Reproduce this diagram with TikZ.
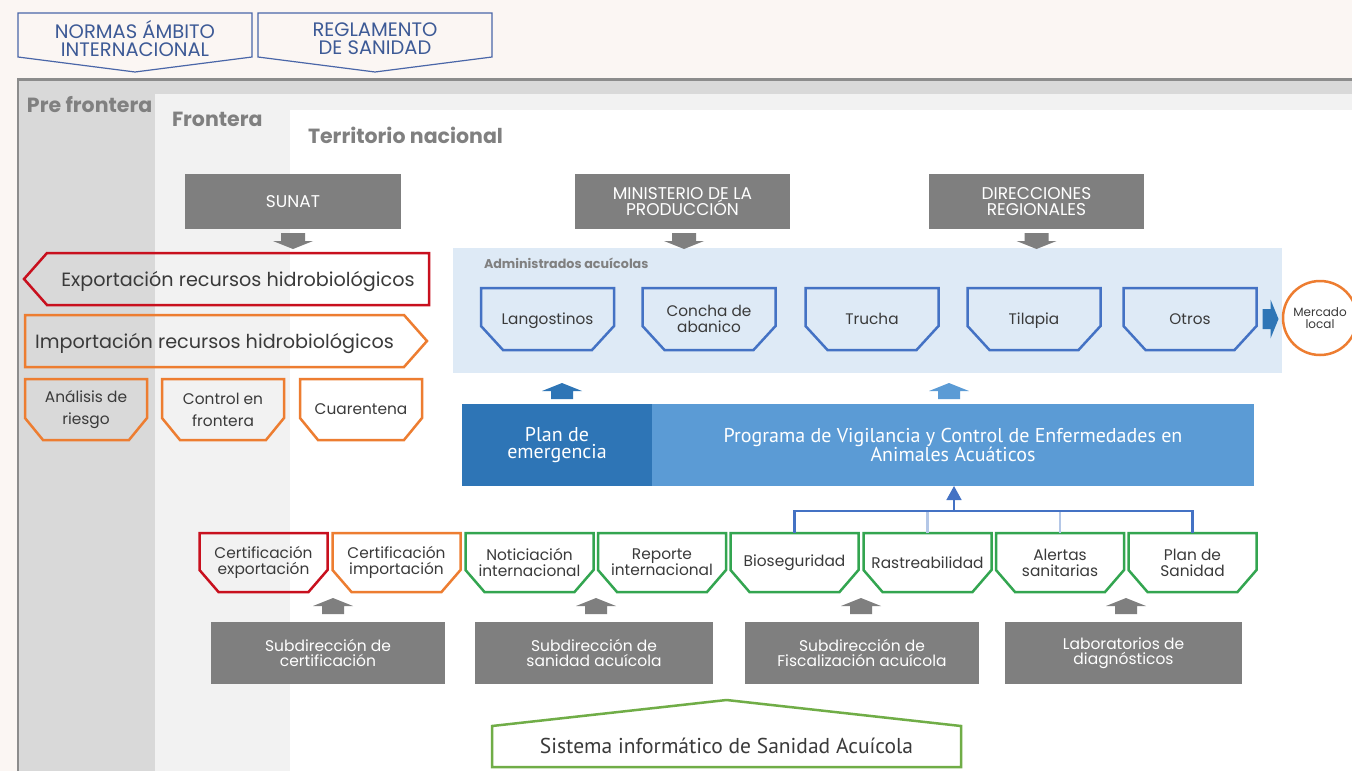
\documentclass[tikz,border=0pt]{standalone}
\usepackage{fontspec}
\setmainfont{Poppins}
\newfontfamily\condfont{PT Sans}
\usetikzlibrary{calc,arrows.meta}
\definecolor{bgc}{HTML}{FBF6F3}
\definecolor{framec}{HTML}{8C8C8C}
\definecolor{zoneA}{HTML}{D9D9D9}
\definecolor{zoneB}{HTML}{F2F2F2}
\definecolor{hblue}{HTML}{4A66A8}
\definecolor{htext}{HTML}{3D5A96}
\definecolor{gbox}{HTML}{7F7F7F}
\definecolor{adminbg}{HTML}{DEEAF6}
\definecolor{ablue}{HTML}{4472C4}
\definecolor{dblue}{HTML}{2E75B6}
\definecolor{mblue}{HTML}{5B9BD5}
\definecolor{lblue}{HTML}{B4C7E7}
\definecolor{redc}{HTML}{C8101E}
\definecolor{orangec}{HTML}{ED7D31}
\definecolor{greenc}{HTML}{33A550}
\definecolor{lgreen}{HTML}{70AD47}
\definecolor{txt}{HTML}{3A3A3A}
\definecolor{zlabel}{HTML}{808080}
\newcommand{\fs}[2]{\fontsize{#1}{#2}\selectfont}
\newcommand{\lowr}[2]{\raisebox{-#1}[\height][\depth]{#2}}
% chamfered outline around a node: name, style, dx, dy
\newcommand{\chamf}[4]{\draw[#2] (#1.north west) -- (#1.north east) -- ([yshift=#4]#1.south east) -- ([xshift=-#3]#1.south east) -- ([xshift=#3]#1.south west) -- ([yshift=#4]#1.south west) -- cycle;}
% block arrow up: color, anchor, xoffset, gap
\newcommand{\uparr}[4]{\fill[#1] ([shift={({#3-11},-#4)}]#2) -- ++(22,0) -- ++(0,-8) -- ++(9,0) -- ++(-20,-8) -- ++(-20,8) -- ++(9,0) -- cycle;}
% block arrow down: color, anchor, xoffset, gap
\newcommand{\dnarr}[4]{\fill[#1] ([shift={({#3-12},#4)}]#2) -- ++(24,0) -- ++(0,8) -- ++(8,0) -- ++(-20,8) -- ++(-20,-8) -- ++(8,0) -- cycle;}
\tikzset{
  every node/.style={inner sep=0pt, outer sep=0pt},
  zonelbl/.style={anchor=base west, text=zlabel, font=\bfseries\fs{20.5}{22}},
  hdr/.style={minimum width=234pt, minimum height=52pt, text=htext, align=center, font=\fs{19.5}{18}},
  gtop/.style={fill=gbox, minimum width=216pt, minimum height=55pt, text=white, align=center, font=\fs{17}{15.5}},
  gbot/.style={fill=gbox, minimum height=62pt, text=white, align=center, font=\fs{15.5}{14.5}},
  abox/.style={minimum width=133pt, minimum height=62pt, align=center, text=txt, font=\fs{15.3}{15.5}},
  obox/.style={minimum width=122pt, minimum height=61pt, align=center, text=txt, font=\fs{15.4}{22}},
  cbox/.style={minimum width=128pt, minimum height=59pt, align=center, text=txt, font=\fs{15.4}{16}},
  bigarrow/.style={minimum height=52pt, text=txt, font=\fs{19.2}{20}},
  brk/.style={ablue, line width=2.5pt},
  lbrk/.style={lblue, line width=2.5pt},
}
\begin{document}
\begin{tikzpicture}[x=1pt,y=-1pt]
\useasboundingbox (0,0) rectangle (1352,771);
% zones
\fill[bgc] (0,0) rectangle (1352,771);
\fill[zoneA] (18,79) rectangle (1352,771);
\fill[zoneB] (155,94) rectangle (1352,771);
\fill[white] (290,110) rectangle (1352,771);
\draw[framec, line width=2.5pt] (18,771) -- (18,79.5) -- (1352,79.5);
\node[zonelbl] (lpre) at (27,112) {Pre frontera};
\node[zonelbl] (lfro) at (172,126) {Frontera};
\node[zonelbl] (lter) at (308,143) {Territorio nacional};
% headers
\node[hdr] (normas) at (135,39) {NORMAS ÁMBITO\\INTERNACIONAL};
\draw[hblue, line width=1.2pt] (normas.north west) -- (normas.north east) -- ([yshift=8pt]normas.south east) -- ([yshift=-7pt]normas.south) -- ([yshift=8pt]normas.south west) -- cycle;
\node[hdr] (regl) at (375,39) {REGLAMENTO\\DE SANIDAD};
\draw[hblue, line width=1.2pt] (regl.north west) -- (regl.north east) -- ([yshift=8pt]regl.south east) -- ([yshift=-7pt]regl.south) -- ([yshift=8pt]regl.south west) -- cycle;
% top gray boxes
\node[gtop] (sunat) at (293,201.5) {SUNAT};
\node[gtop, minimum width=215pt] (minprod) at (682.5,201.5) {MINISTERIO DE LA\\PRODUCCIÓN};
\node[gtop, minimum width=215pt] (direc) at (1036.5,201.5) {DIRECCIONES\\REGIONALES};
% admin area
\node[fill=adminbg, minimum width=829pt, minimum height=125pt] (admin) at (867.5,310.5) {};
\node[anchor=base west, text=zlabel, font=\bfseries\fs{12.7}{14}] (admlbl) at (484,268) {Administrados acuícolas};
\dnarr{gbox}{sunat.south}{0}{4}
\dnarr{gbox}{minprod.south}{1.5}{4}
\dnarr{gbox}{direc.south}{0}{4}
\node[abox] (lang) at (547.5,319) {\lowr{2pt}{Langostinos}};
\node[abox] (concha) at (709,319) {Concha de\\abanico};
\node[abox] (trucha) at (872,319) {Trucha};
\node[abox] (tilapia) at (1034,319) {\lowr{2pt}{Tilapia}};
\node[abox] (otros) at (1190,319) {Otros};
\foreach \n in {lang,concha,trucha,tilapia,otros}{\chamf{\n}{ablue, line width=2.5pt}{22pt}{24pt}}
% mercado local
\node[circle, draw=orangec, line width=2.5pt, fill=white, minimum size=74pt, align=center, text=txt, font=\fs{12}{12.5}] (merc) at (1320,318) {Mercado\\local};
\fill[dblue] ([shift={(6,-10)}]otros.east) -- ++(8,0) -- ++(0,-9.5) -- ++(8,19.5) -- ++(-8,19.5) -- ++(0,-9.5) -- ++(-8,0) -- cycle;
% export / import
\node[bigarrow, minimum width=382pt] (exp) at (238,279) {\lowr{3pt}{Exportación recursos hidrobiológicos}};
\draw[redc, line width=2.5pt] (exp.north west) -- (exp.north east) -- (exp.south east) -- (exp.south west) -- ([xshift=-23pt]exp.west) -- cycle;
\node[bigarrow, minimum width=379pt] (imp) at (214.5,341) {\lowr{3pt}{Importación recursos hidrobiológicos}};
\draw[orangec, line width=2.5pt] (imp.north west) -- (imp.north east) -- ([xshift=23pt]imp.east) -- (imp.south east) -- (imp.south west) -- cycle;
\node[obox] (anal) at (86,409.5) {Análisis de\\riesgo};
\node[obox] (ctrl) at (223,409.5) {Control en\\frontera};
\node[obox] (cuar) at (361,409.5) {Cuarentena};
\foreach \n in {anal,ctrl,cuar}{\chamf{\n}{orangec, line width=2.5pt}{18pt}{22pt}}
% plan / programa
\node[fill=dblue, minimum width=190pt, minimum height=82pt, text=white, align=center, font=\condfont\fs{20}{17.5}] (plan) at (557,445) {Plan de\\emergencia};
\node[fill=mblue, minimum width=602pt, minimum height=82pt, text=white, align=center, font=\condfont\fs{20}{17.5}] (prog) at (953,445) {Programa de Vigilancia y Control de Enfermedades en\\Animales Acuáticos};
\uparr{dblue}{plan.north}{5}{5}
\uparr{mblue}{prog.north}{-4}{5}
% certification row
\node[cbox] (cexp) at (263.5,562.5) {Certificación\\exportación};
\node[cbox] (cimp) at (396.5,562.5) {Certificación\\importación};
\node[cbox] (noti) at (529.5,562.5) {Noticiación\\internacional};
\node[cbox] (repo) at (662,562.5) {Reporte\\internacional};
\node[cbox] (bio) at (794.5,562.5) {Bioseguridad};
\node[cbox] (ras) at (927.5,562.5) {Rastreabilidad};
\node[cbox] (alert) at (1060,562.5) {Alertas\\sanitarias};
\node[cbox] (plsan) at (1192.5,562.5) {Plan de\\Sanidad};
\chamf{cexp}{redc, line width=2.5pt}{19pt}{22pt}
\chamf{cimp}{orangec, line width=2.5pt}{19pt}{22pt}
\foreach \n in {noti,repo,bio,ras,alert,plsan}{\chamf{\n}{greenc, line width=2.5pt}{19pt}{22pt}}
% bracket to programa
\draw[lbrk] (ras.north) -- ([yshift=22pt]ras.north);
\draw[lbrk] (alert.north) -- ([yshift=22pt]alert.north);
\draw[brk] (bio.north) -- ([yshift=22pt]bio.north) coordinate (bl) -- ([yshift=22pt]plsan.north) -- (plsan.north);
\draw[ablue, line width=1.5pt, -{Triangle[width=15pt,length=14pt]}] ([xshift=1pt]prog.south |- bl) -- ([xshift=1pt]prog.south);
% bottom gray boxes
\node[gbot, minimum width=234pt] (subcert) at (328,653) {Subdirección de\\certificación};
\node[gbot, minimum width=238pt] (subsan) at (594,653) {Subdirección de\\sanidad acuícola};
\node[gbot, minimum width=234pt] (subfis) at (862,653) {Subdirección de\\Fiscalización acuícola};
\node[gbot, minimum width=237pt] (lab) at (1123.5,653) {Laboratorios de\\diagnósticos};
\uparr{gbox}{subcert.north}{5}{8}
\uparr{gbox}{subsan.north}{2}{8}
\uparr{gbox}{subfis.north}{-1}{8}
\uparr{gbox}{lab.north}{2.5}{8}
% sistema
\node[minimum width=469pt, minimum height=40pt, text=txt, font=\condfont\fs{21.5}{22}] (sis) at (726.5,746) {Sistema informático de Sanidad Acuícola};
\draw[lgreen, line width=2.5pt] ([yshift=-1pt]sis.south west) -- (sis.north west) -- ([yshift=26pt]sis.north) -- (sis.north east) -- ([yshift=-1pt]sis.south east) -- cycle;
\end{tikzpicture}
\end{document}
